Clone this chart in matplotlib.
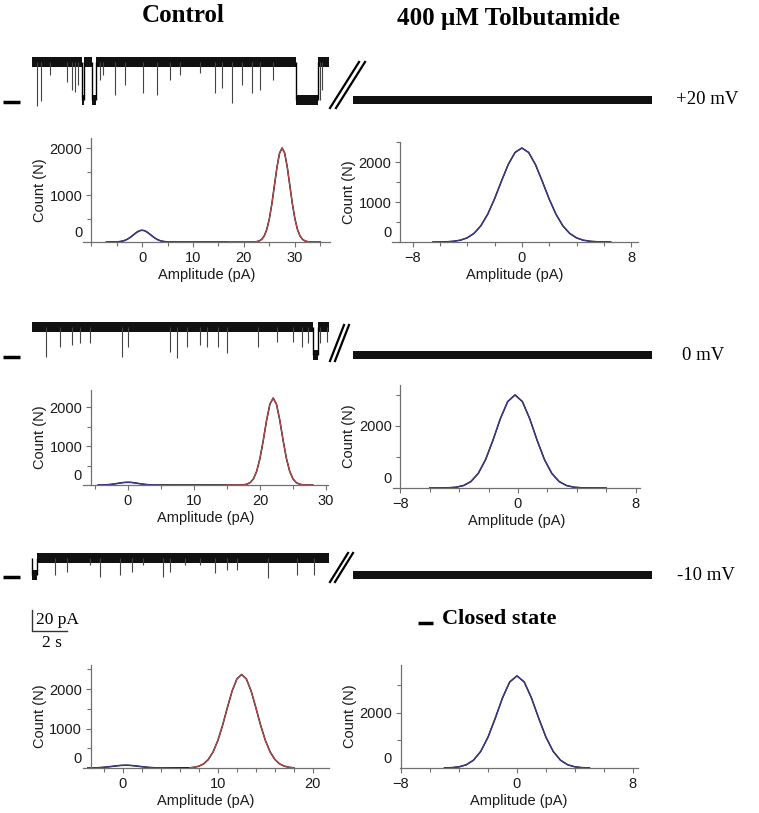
import matplotlib
matplotlib.use("Agg")
import matplotlib.pyplot as plt

W, H = 759, 813

# ---------------- single-channel traces (time in s, current in pA, closed = 0) ----------------
voltages = ["+20 mV", "0 mV", "-10 mV"]
label_x = [676, 682, 677]
open_level = [36.0, 26.7, 16.2]
noise_ctl = [4.8, 5.0, 4.8]
noise_tolb = [4.1, 3.9, 3.9]
tolb_span = (18.34, 35.43)

open_segs = [
    [(0, 2.86), (2.97, 3.43), (3.66, 15.09), (16.34, 16.97)],
    [(0, 16.06), (16.34, 16.97)],
    [(0.29, 16.97)],
]
shut_segs = [
    [(2.86, 2.97), (3.43, 3.66), (15.09, 16.34)],
    [(16.06, 16.34)],
    [(0, 0.29)],
]
spike_t = [
    [0.29, 0.51, 1.03, 2.0, 2.29, 2.46, 2.63, 3.89, 4.06, 4.74, 5.31, 6.34, 7.14,
     7.89, 8.46, 9.6, 10.46, 10.86, 11.43, 12.0, 12.57, 13.03, 13.77, 16.46, 16.57],
    [0.8, 1.6, 2.29, 2.74, 3.31, 5.14, 5.49, 7.89, 8.29, 8.86, 9.6, 10.0, 10.63,
     11.14, 12.91, 14.0, 14.91, 15.43, 15.77, 16.46, 16.86],
    [1.31, 2.0, 3.31, 3.89, 5.03, 5.71, 6.34, 7.49, 7.89, 8.74, 9.6, 10.46, 11.14,
     11.71, 13.49, 15.14, 16.11],
]
spike_min = [
    [-5.7, -1, 24, 17, 9.5, 7.6, 14, 19, 24, 5, 14, 7, 5, 19, 24, 26, 7, 11, -3,
     14, 7, 9.5, 19, 0, 9.5],
    [-2, 7.6, 9.5, 11.4, 11.4, -2, 7.6, 3, -3, 7.6, 9.5, 7.6, 7.6, 2, 7.6, 12.4,
     12.4, 7.6, 11.4, 11.4, 12.4],
    [0, 3, 9.5, -2, 0, 3, 9.5, -2, 3, 9.5, 9.5, 2, 5, 5, -3, 0, 0],
]

# ---------------- amplitude histograms (pA, counts) ----------------
# +20 mV control
h1_closed_x = [-7, -5, -4.5, -4, -3.5, -3, -2.5, -2, -1.5, -1, -0.5, 0, 0.5, 1, 1.5,
               2, 2.5, 3, 3.5, 4, 4.5, 5, 6, 8]
h1_closed_n = [0, 3, 8, 16, 30, 53, 85, 125, 169, 210, 240, 250, 240, 210, 169, 125,
               85, 53, 30, 16, 8, 3, 1, 0]
h1_open_x = [17, 20, 21.5, 22, 22.5, 23, 23.5, 24, 24.5, 25, 25.5, 26, 26.5, 27, 27.5,
             28, 28.5, 29, 29.5, 30, 30.5, 31, 31.5, 32, 32.5, 33, 33.5, 35]
h1_open_n = [0, 0, 1, 2, 8, 22, 57, 131, 271, 499, 822, 1213, 1601, 1892, 2000, 1892,
             1601, 1213, 822, 499, 271, 131, 57, 22, 8, 2, 1, 0]
# +20 mV tolbutamide
h2_x = [-6.5, -6, -5.5, -5, -4.5, -4, -3.5, -3, -2.5, -2, -1.5, -1, -0.5, 0, 0.5, 1,
        1.5, 2, 2.5, 3, 3.5, 4, 4.5, 5, 5.5, 6, 6.5]
h2_n = [0, 2, 6, 18, 45, 103, 215, 405, 693, 1076, 1515, 1934, 2238, 2350, 2238, 1934,
        1515, 1076, 693, 405, 215, 103, 45, 18, 6, 2, 0]
# 0 mV control
h3_closed_x = [-4.5, -4, -3.5, -3, -2.5, -2, -1.5, -1, -0.5, 0, 0.5, 1, 1.5, 2, 2.5,
               3, 3.5, 4, 4.5]
h3_closed_n = [1, 2, 5, 9, 17, 29, 42, 56, 66, 70, 66, 56, 42, 29, 17, 9, 5, 2, 1]
h3_open_x = [15, 17, 17.5, 18, 18.5, 19, 19.5, 20, 20.5, 21, 21.5, 22, 22.5, 23, 23.5,
             24, 24.5, 25, 25.5, 26, 26.5, 27, 28]
h3_open_n = [0, 1, 6, 20, 60, 155, 351, 683, 1146, 1659, 2071, 2230, 2071, 1659, 1146,
             683, 351, 155, 60, 20, 6, 1, 0]
# 0 mV tolbutamide
h4_x = [-6, -5.2, -4.7, -4.2, -3.7, -3.2, -2.7, -2.2, -1.7, -1.2, -0.7, -0.2, 0.3, 0.8,
        1.3, 1.8, 2.3, 2.8, 3.3, 3.8, 4.3, 4.8, 6]
h4_n = [0, 2, 8, 26, 80, 208, 471, 918, 1542, 2232, 2786, 3000, 2786, 2232, 1542, 918,
        471, 208, 80, 26, 8, 2, 0]
# -10 mV control
h5_closed_x = [-3.7, -3.2, -2.7, -2.2, -1.7, -1.2, -0.7, -0.2, 0.3, 0.8, 1.3, 1.8, 2.3,
               2.8, 3.3, 3.8, 4.3]
h5_closed_n = [1, 3, 7, 14, 25, 39, 54, 66, 70, 66, 54, 39, 25, 14, 7, 3, 1]
h5_open_x = [7, 7.5, 8, 8.5, 9, 9.5, 10, 10.5, 11, 11.5, 12, 12.5, 13, 13.5, 14, 14.5,
             15, 15.5, 16, 16.5, 17, 17.5, 18]
h5_open_n = [6, 18, 46, 104, 217, 409, 699, 1085, 1529, 1951, 2256, 2370, 2256, 1951,
             1529, 1085, 699, 409, 217, 104, 46, 18, 6]
# -10 mV tolbutamide
h6_x = [-5, -4.5, -4, -3.5, -3, -2.5, -2, -1.5, -1, -0.5, 0, 0.5, 1, 1.5, 2, 2.5, 3,
        3.5, 4, 4.5, 5]
h6_n = [4, 13, 42, 116, 284, 603, 1119, 1807, 2546, 3129, 3350, 3129, 2546, 1807, 1119,
        603, 284, 116, 42, 13, 4]

BLUE = "#3b3b9c"
RED = "#c44a4a"
AXC = "#707070"
TXT = "#1a1a1a"
SERIF = ["Liberation Serif", "DejaVu Serif"]
SANS = ["Liberation Sans", "DejaVu Sans"]
FS = 10.5

# trace scale: px per s, px per pA, x pixel of t = 0, y pixel of closed level per row
PX_S, PX_PA, T0_PX = 17.5, 1.05, 32
closed_y = [100, 355, 575]


def px_box(x0, x1, ytop, ybot):
    return [x0 / W, 1 - ybot / H, (x1 - x0) / W, (ybot - ytop) / H]


fig = plt.figure(figsize=(W / 100, H / 100), dpi=100)
ov = fig.add_axes([0, 0, 1, 1])
ov.set_xlim(0, W)
ov.set_ylim(H, 0)
ov.axis("off")

# titles
ov.text(183, 15, "Control", ha="center", va="center", family=SERIF,
        weight="bold", size=18)
ov.text(508, 18, "400 \u00b5M Tolbutamide", ha="center", va="center",
        family=SERIF, weight="bold", size=18)

# traces
breaks = [(330, 108, 359, 62, 6), (330, 361, 344, 325, 5), (330, 582, 348, 553, 5)]
for i in range(3):
    cy = closed_y[i]
    ax = fig.add_axes(px_box(0, W, cy - 55, cy + 25))
    ax.set_xlim(-T0_PX / PX_S, (W - T0_PX) / PX_S)
    ax.set_ylim(-25 / PX_PA, 55 / PX_PA)
    ax.axis("off")
    lvl, nz = open_level[i], noise_ctl[i]
    for a, b in open_segs[i]:
        ax.fill_between([a, b], lvl - nz, lvl + nz, color="#111", lw=0)
    for a, b in shut_segs[i]:
        ax.fill_between([a, b], -nz, nz, color="#111", lw=0)
        ax.vlines([a, b], 0, lvl, color="k", lw=1.0)
    ax.vlines(spike_t[i], spike_min[i], lvl, color="#444", lw=0.8)
    ax.fill_between(tolb_span, -noise_tolb[i], noise_tolb[i], color="#111", lw=0)
    # closed-level marker
    ax.plot([(3 - T0_PX) / PX_S, (20 - T0_PX) / PX_S], [-2, -2], color="k", lw=2.5,
            solid_capstyle="butt")
    # break marks
    x0, y0, x1, y1, d = breaks[i]
    for k in (0, d):
        ov.plot([x0 + k, x1 + k], [y0, y1], color="k", lw=1.6)
    ov.text(label_x[i], cy, voltages[i], ha="left", va="center", family=SERIF,
            size=13.5)

# scale bar
sb_x, sb_y = 32, 631
ov.plot([sb_x, sb_x, sb_x + 2 * PX_S], [sb_y - 20 * PX_PA, sb_y, sb_y], color="#333",
        lw=1.0)
ov.text(36, 620, "20 pA", ha="left", va="center", family=SERIF, size=12.5)
ov.text(52, 643, "2 s", ha="center", va="center", family=SERIF, size=12.5)

# closed state legend
ov.plot([418, 433], [623, 623], color="k", lw=2.5, solid_capstyle="butt")
ov.text(442, 619, "Closed state", ha="left", va="center", family=SERIF,
        weight="bold", size=16)

panels = [
    dict(box=(83, 330, 138, 242), xlim=(-11.6, 36.9), ytop=2213, yx=-10,
         xmaj=[0, 10, 20, 30], xmin=[-10, -5, 5, 15, 25, 35],
         ymaj=[1000, 2000], ymin=[500, 1500],
         curves=[(h1_closed_x, h1_closed_n, BLUE), (h1_open_x, h1_open_n, RED)]),
    dict(box=(392, 638, 142, 242), xlim=(-9.5, 8.5), ytop=2500, yx=-8.9,
         xmaj=[-8, 0, 8], xmin=[-6, -4, -2, 2, 4, 6],
         ymaj=[1000, 2000], ymin=[500, 1500, 2500],
         curves=[(h2_x, h2_n, BLUE)]),
    dict(box=(83, 328, 390, 485), xlim=(-6.8, 30.3), ytop=2436, yx=-5.6,
         xmaj=[0, 10, 20, 30], xmin=[-5, 5, 15, 25],
         ymaj=[1000, 2000], ymin=[500, 1500],
         curves=[(h3_closed_x, h3_closed_n, BLUE), (h3_open_x, h3_open_n, RED)]),
    dict(box=(393, 640, 385, 488), xlim=(-8.5, 8.3), ytop=3320, yx=-8,
         xmaj=[-8, 0, 8], xmin=[-6, -4, -2, 2, 4, 6],
         ymaj=[2000], ymin=[1000, 3000],
         curves=[(h4_x, h4_n, BLUE)]),
    dict(box=(83, 329, 665, 768), xlim=(-4.2, 21.7), ytop=2610, yx=-3.4,
         xmaj=[0, 10, 20], xmin=[-2, 2, 4, 6, 8, 12, 14, 16, 18],
         ymaj=[1000, 2000], ymin=[500, 1500, 2500],
         curves=[(h5_closed_x, h5_closed_n, BLUE), (h5_open_x, h5_open_n, RED)]),
    dict(box=(400, 638, 665, 768), xlim=(-8.07, 8.35), ytop=3745, yx=-8,
         xmaj=[-8, 0, 8], xmin=[-6, -4, -2, 2, 4, 6],
         ymaj=[2000], ymin=[1000, 3000],
         curves=[(h6_x, h6_n, BLUE)]),
]

for p in panels:
    l, r, yt, y0 = p["box"]
    ax = fig.add_axes(px_box(l, r, yt, y0))
    ax.set_xlim(*p["xlim"])
    ax.set_ylim(0, p["ytop"])
    ax.patch.set_alpha(0)
    for s in ("top", "right"):
        ax.spines[s].set_visible(False)
    ax.spines["left"].set_position(("data", p["yx"]))
    for s in ("left", "bottom"):
        ax.spines[s].set_color(AXC)
        ax.spines[s].set_linewidth(0.9)
    # black histogram with fits on top
    hx, hn = [], []
    for cx, cn, col in p["curves"]:
        hx += cx
        hn += cn
    ax.plot(hx, hn, color="#111", lw=1.1, clip_on=False)
    for cx, cn, col in p["curves"]:
        ax.plot(cx, cn, color=col, lw=0.8, clip_on=False)

    ax.set_xticks(p["xmaj"])
    ax.set_xticks(p["xmin"], minor=True)
    ax.set_yticks(p["ymaj"])
    ax.set_yticks(p["ymin"], minor=True)
    ax.tick_params(axis="both", which="major", length=3.6, width=0.8, color=AXC,
                   labelsize=FS, labelcolor=TXT)
    ax.tick_params(axis="both", which="minor", length=2.9, width=0.8, color=AXC)
    ax.tick_params(axis="x", pad=2.8)
    ax.tick_params(axis="y", pad=2.6)
    for t in ax.get_xticklabels() + ax.get_yticklabels():
        t.set_family(SANS)
    # the 0 label sits a little above the axis line
    ax.annotate("0", xy=(p["yx"], 0), xycoords="data", xytext=(-9, 9),
                textcoords="offset pixels", ha="right", va="center",
                family=SANS, size=FS, color=TXT, annotation_clip=False)

    hpx, wpx = y0 - yt, r - l
    spine_px = l + (p["yx"] - p["xlim"][0]) / (p["xlim"][1] - p["xlim"][0]) * wpx
    ax.set_xlabel("Amplitude (pA)", family=SANS, size=FS, color=TXT)
    ax.xaxis.set_label_coords(0.5, -26 / hpx)
    ax.set_ylabel("Count (N)", family=SANS, size=FS, color=TXT)
    ax.yaxis.set_label_coords((spine_px - 44 - l) / wpx, 0.5)

fig.savefig("out.png", dpi=100)
